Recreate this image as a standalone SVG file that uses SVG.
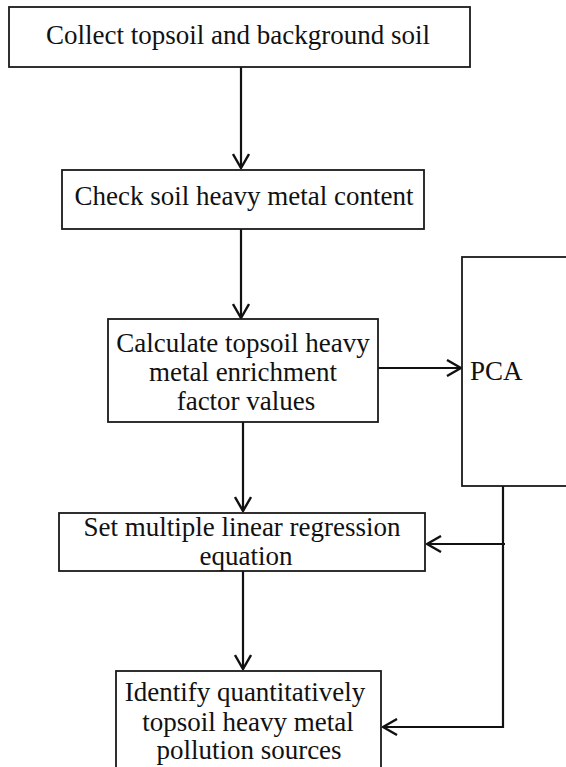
<svg xmlns="http://www.w3.org/2000/svg" width="566" height="767" viewBox="0 0 566 767">
<style>
.box{fill:#fff;stroke:#1a1a1a;stroke-width:1.8}
.t{font-family:"Liberation Serif","Times New Roman",serif;font-size:27px;fill:#111;text-anchor:middle}
.c{fill:none;stroke:#111;stroke-width:2.2}
</style>
<defs>
<marker id="ah" viewBox="0 0 16 18" refX="15" refY="9" markerWidth="16" markerHeight="18" markerUnits="userSpaceOnUse" orient="auto">
<path d="M1,1 L15,9 L1,17" fill="none" stroke="#111" stroke-width="2.4"/>
</marker>
</defs>
<rect width="566" height="767" fill="#fff"/>
<g id="connectors">
<line class="c" x1="241" y1="67" x2="241" y2="168" marker-end="url(#ah)"/>
<line class="c" x1="241" y1="229" x2="241" y2="318" marker-end="url(#ah)"/>
<line class="c" x1="378" y1="368" x2="461" y2="368" marker-end="url(#ah)"/>
<line class="c" x1="243" y1="422" x2="243" y2="511" marker-end="url(#ah)"/>
<line class="c" x1="243" y1="571" x2="243" y2="669" marker-end="url(#ah)"/>
<polyline class="c" points="503,486 503,727 383,727" marker-end="url(#ah)"/>
<line class="c" x1="505" y1="544" x2="427" y2="544" marker-end="url(#ah)"/>
</g>
<g id="n1">
<rect class="box" x="9" y="7" width="461" height="60"/>
<text class="t" x="238" y="44">Collect topsoil and background soil</text>
</g>
<g id="n2">
<rect class="box" x="62" y="170" width="362" height="59"/>
<text class="t" x="244" y="205">Check soil heavy metal content</text>
</g>
<g id="n3">
<rect class="box" x="108" y="319" width="270" height="103"/>
<text class="t" x="243" y="352">Calculate topsoil heavy</text>
<text class="t" x="243" y="381">metal enrichment</text>
<text class="t" x="246" y="410">factor values</text>
</g>
<g id="n4">
<rect class="box" x="462" y="257" width="120" height="229"/>
<text class="t" x="470" y="380" style="text-anchor:start">PCA</text>
</g>
<g id="n5">
<rect class="box" x="59" y="513" width="366" height="58"/>
<text class="t" x="242" y="536">Set multiple linear regression</text>
<text class="t" x="246" y="565">equation</text>
</g>
<g id="n6">
<rect class="box" x="116" y="671" width="265" height="110"/>
<text class="t" x="245" y="701">Identify quantitatively</text>
<text class="t" x="248" y="731">topsoil heavy metal</text>
<text class="t" x="249" y="759">pollution sources</text>
</g>
</svg>
